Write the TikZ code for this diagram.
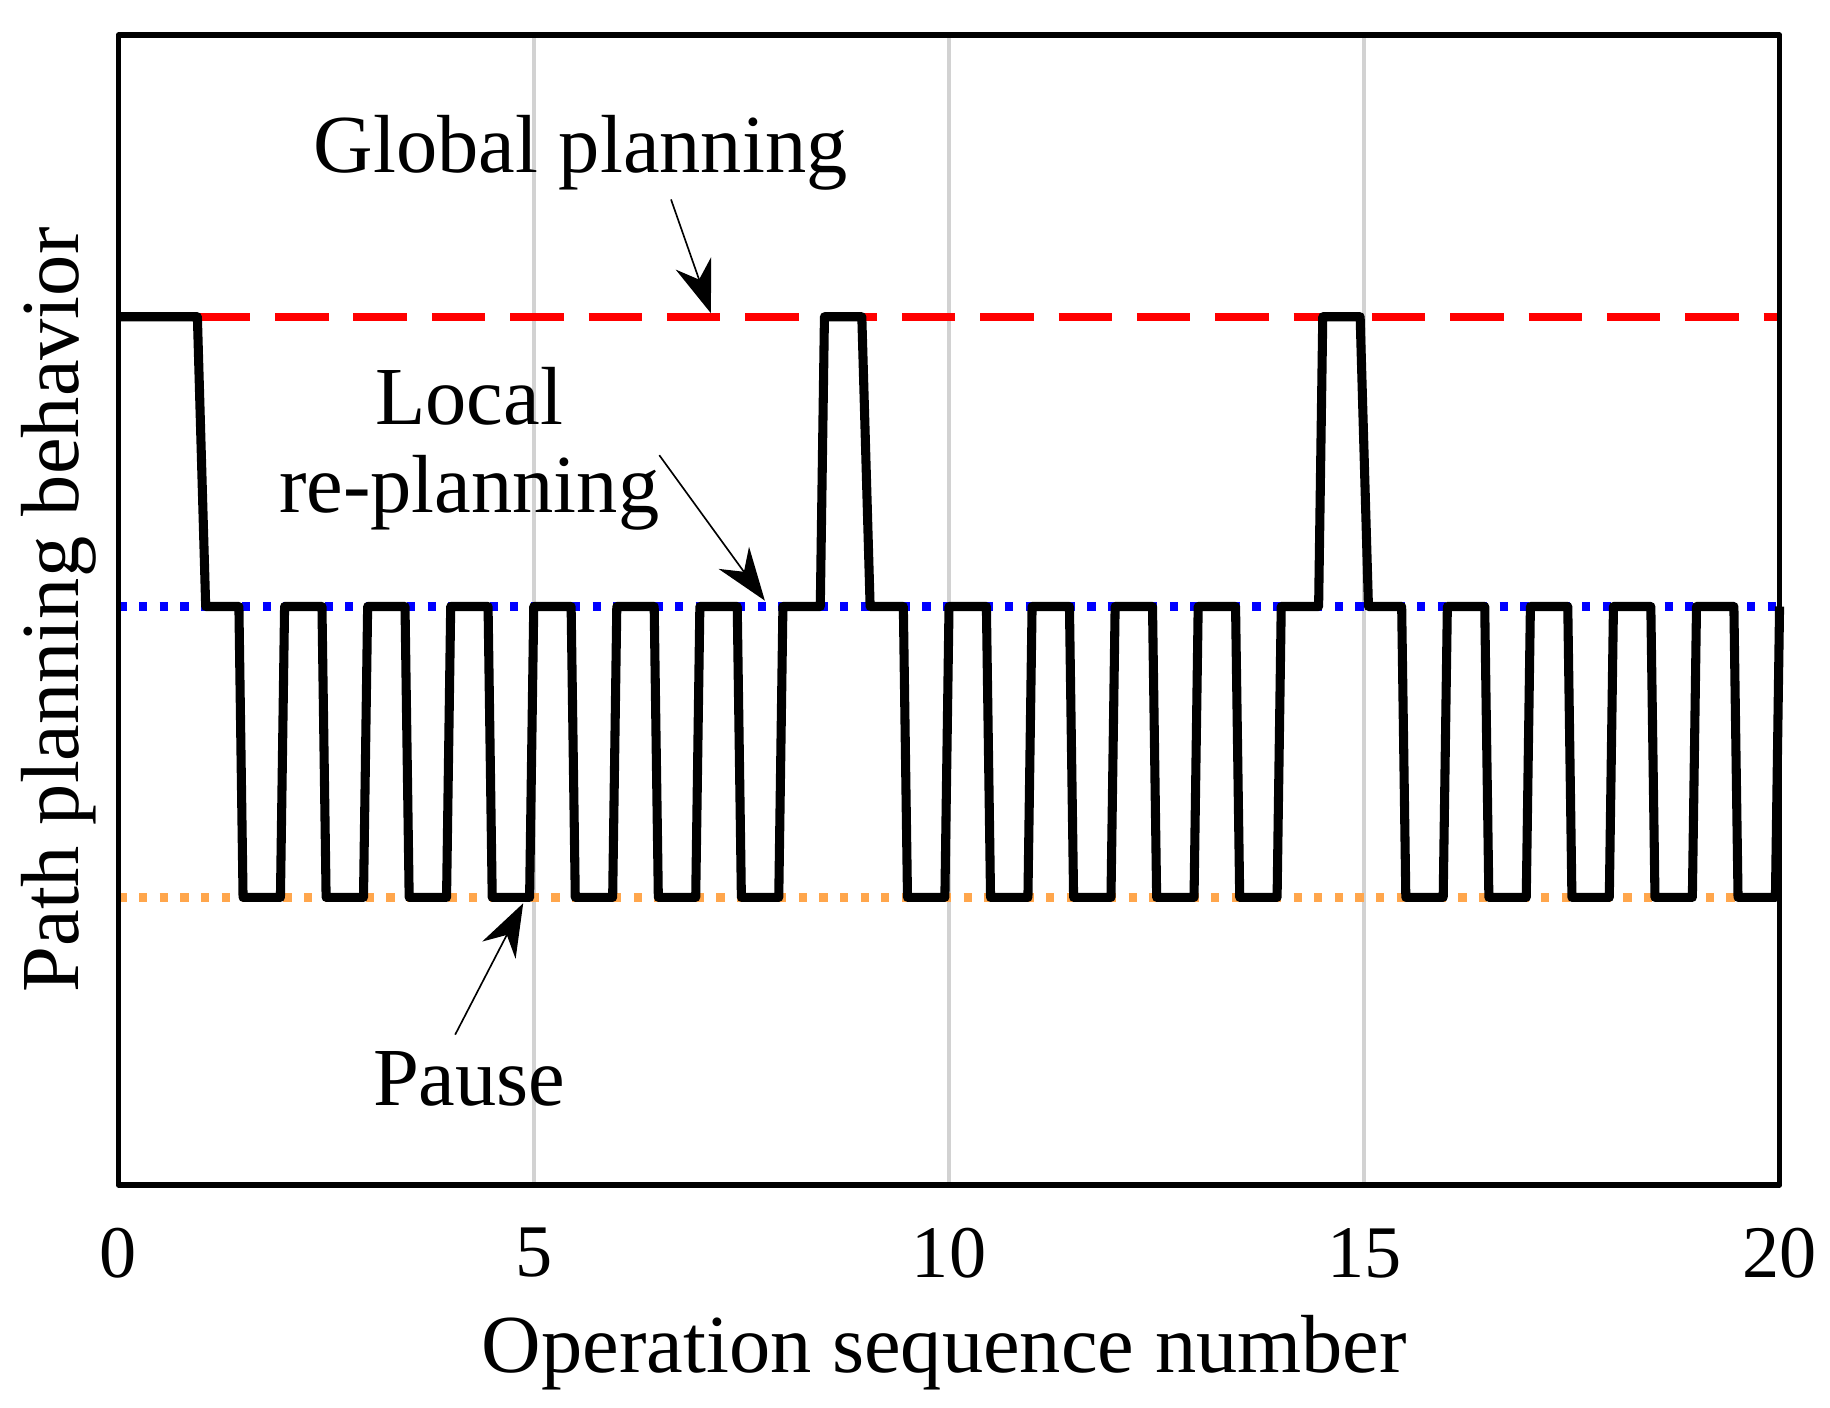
\documentclass[tikz,border=0pt]{standalone}
\usepackage{fontspec}
\setmainfont{Liberation Serif}
\usetikzlibrary{arrows.meta}

\begin{document}
\begin{tikzpicture}[
            > = {Stealth[length=4.5mm, width=3.2mm]}, % arrow head style
            line join = round,
            semithick % line style
        ]

        \tikzstyle{label text}=[font=\fontsize{20}{24}\selectfont]
        \tikzstyle{tick text}=[font=\fontsize{18}{22}\selectfont]
        \tikzstyle{pointer}=[->, thin, black]

        \def\G{9.30}\def\L{6.83}\def\P{4.35}

        \useasboundingbox (0,0) rectangle (15.6,12);

        % grid and levels
        \begin{scope}[shift={(1.01,0)}, xscale=0.708]
            \foreach \t in {5,10,15}
                \draw[gray!35, line width=1pt] (\t,1.90) -- (\t,11.70);
            \draw[red, line width=2pt, dash pattern=on 13pt off 6pt] (0,\G) -- (20,\G);
            \draw[blue, line width=2pt, dash pattern=on 2pt off 3pt] (0,\L) -- (20,\L);
            \draw[orange!70, line width=2pt, dash pattern=on 2pt off 3pt] (0,\P) -- (20,\P);

            % behaviour signal
            \draw[black, line width=2.2pt] (0,\G) -- (0.95,\G) -- (1.05,\L)
                \foreach \k in {1,...,7}{ -- ({\k+0.45},\L) -- ({\k+0.5},\P) -- ({\k+0.95},\P) -- ({\k+1},\L) }
                -- (8.45,\L) -- (8.5,\G) -- (8.95,\G) -- (9.05,\L)
                \foreach \k in {9,...,13}{ -- ({\k+0.45},\L) -- ({\k+0.5},\P) -- ({\k+0.95},\P) -- ({\k+1},\L) }
                -- (14.45,\L) -- (14.5,\G) -- (14.95,\G) -- (15.05,\L)
                \foreach \k in {15,...,19}{ -- ({\k+0.45},\L) -- ({\k+0.5},\P) -- ({\k+0.95},\P) -- ({\k+1},\L) };

            \foreach \t in {0,5,10,15,20}
                \node[tick text] (tick\t) at (\t,1.32) {\t};
        \end{scope}

        % frame
        \draw[line width=1.4pt] (1.01,1.90) rectangle (15.17,11.70);

        % labels
        \node[label text] (xlabel) at (8.05,0.47) {Operation sequence number};
        \node[label text, rotate=90] (ylabel) at (0.50,6.80) {Path planning behavior};
        \node[label text] (global) at (4.95,10.70) {Global planning};
        \node[label text] (local) at (4.00,8.62) {Local};
        \node[label text] (replan) at (4.00,7.80) {re-planning};
        \node[label text] (pause) at (4.00,2.80) {Pause};

        % pointers
        \coordinate (globalTail) at (5.72,10.30);
        \coordinate (globalTip) at (6.06,9.33);
        \coordinate (replanTail) at (5.62,8.12);
        \coordinate (replanTip) at (6.52,6.88);
        \coordinate (pauseTail) at (3.88,3.18);
        \coordinate (pauseTip) at (4.46,4.30);
        \draw[pointer] (globalTail) -- (globalTip);
        \draw[pointer] (replanTail) -- (replanTip);
        \draw[pointer] (pauseTail) -- (pauseTip);
    \end{tikzpicture}
\end{document}
